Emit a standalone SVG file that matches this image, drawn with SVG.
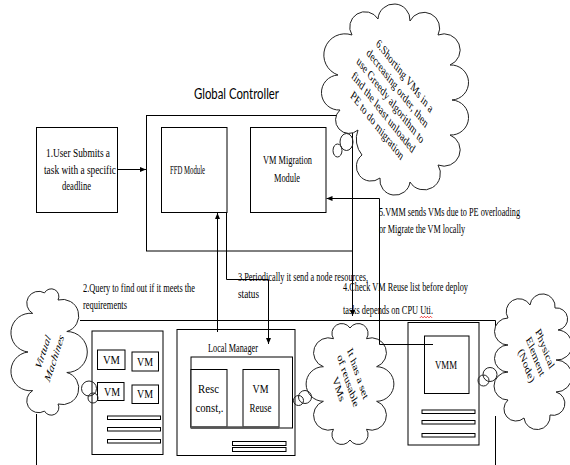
<svg xmlns="http://www.w3.org/2000/svg" width="570" height="465" viewBox="0 0 570 465">
<defs>
<marker id="ah" viewBox="0 0 6 6" markerWidth="6" markerHeight="6" refX="6" refY="3" orient="auto" markerUnits="userSpaceOnUse"><path d="M0,0.5 L6,3 L0,5.5 z" fill="#000"/></marker>
</defs>
<style>
.box{fill:#fff;stroke:#000;stroke-width:1}
.ln{fill:none;stroke:#000;stroke-width:1}
.cloud{fill:#fff;stroke:#222;stroke-width:1}
.bub{fill:none;stroke:#222;stroke-width:1}
.bar{fill:#fff;stroke:#000;stroke-width:1}
.conn{fill:none;stroke:#000;stroke-width:1}
.t{font-family:"Liberation Serif","Times New Roman",serif;font-size:13px;fill:#000}
.s{font-family:Lato,"Open Sans","Liberation Sans",sans-serif;font-size:15px;fill:#000}
</style>
<rect width="570" height="465" fill="#fff"/>

<g id="node-container">
<path class="ln" d="M80,320.5 H495.5 V327 M495.5,416 V470 M36.5,414 V470"/>
</g>

<g id="global-controller">
<rect class="box" x="146.5" y="115.5" width="206" height="135.5"/>
<text class="s" x="194" y="99" textLength="85" lengthAdjust="spacingAndGlyphs">Global Controller</text>
</g>

<g id="user-task">
<rect class="box" x="36.5" y="127.5" width="81" height="85"/>
<text class="t" x="46" y="157" textLength="64" lengthAdjust="spacingAndGlyphs">1.User Submits a</text>
<text class="t" x="44" y="174" textLength="72" lengthAdjust="spacingAndGlyphs">task with a specific</text>
<text class="t" x="62" y="190" textLength="29" lengthAdjust="spacingAndGlyphs">deadline</text>
</g>

<g id="ffd-module">
<rect class="box" x="161.5" y="127.5" width="65.5" height="85"/>
<text class="t" x="170" y="174" textLength="35" lengthAdjust="spacingAndGlyphs">FFD Module</text>
</g>

<g id="vm-migration">
<rect class="box" x="250.5" y="127.5" width="75.5" height="85"/>
<text class="t" x="263" y="164" textLength="49" lengthAdjust="spacingAndGlyphs">VM Migration</text>
<text class="t" x="274" y="182" textLength="26" lengthAdjust="spacingAndGlyphs">Module</text>
</g>

<g id="vm-group">
<rect class="box" x="92" y="331" width="71" height="123.5"/>
<rect class="box" x="97.5" y="350" width="27.5" height="19.5"/>
<rect class="box" x="132" y="352" width="26.5" height="19"/>
<rect class="box" x="97.5" y="382.5" width="26.5" height="18"/>
<rect class="box" x="132" y="385" width="26.5" height="18.5"/>
<text class="t" x="103" y="364" textLength="17" lengthAdjust="spacingAndGlyphs">VM</text>
<text class="t" x="137" y="366" textLength="16" lengthAdjust="spacingAndGlyphs">VM</text>
<text class="t" x="104" y="396" textLength="16" lengthAdjust="spacingAndGlyphs">VM</text>
<text class="t" x="137" y="398" textLength="16" lengthAdjust="spacingAndGlyphs">VM</text>
<rect class="bar" x="107.5" y="416" width="53" height="3.5"/>
<rect class="bar" x="107.5" y="427.5" width="53" height="3.5"/>
<rect class="bar" x="107.5" y="439.5" width="53" height="3.5"/>
</g>

<g id="local-manager">
<rect class="box" x="177" y="329.5" width="118" height="126"/>
<text class="t" x="208" y="352" textLength="50" lengthAdjust="spacingAndGlyphs">Local Manager</text>
<rect class="box" x="191" y="357" width="101.5" height="71"/>
<rect class="box" x="191" y="369.5" width="36" height="57.5"/>
<rect class="box" x="243" y="369.5" width="36" height="57.5"/>
<line x1="191" y1="427.5" x2="279" y2="427.5" stroke="#555" stroke-width="2.5"/>
<text class="t" x="198" y="393" textLength="21" lengthAdjust="spacingAndGlyphs">Resc</text>
<text class="t" x="195.5" y="412" textLength="28" lengthAdjust="spacingAndGlyphs">const,.</text>
<text class="t" x="252.5" y="393" textLength="16" lengthAdjust="spacingAndGlyphs">VM</text>
<text class="t" x="249.5" y="412" textLength="22" lengthAdjust="spacingAndGlyphs">Reuse</text>
<rect class="bar" x="232.5" y="441.5" width="53.5" height="4"/>
<rect class="bar" x="232.5" y="447.5" width="53.5" height="4"/>
</g>

<g id="vmm-node">
<rect class="box" x="408" y="322.5" width="71" height="122.5"/>
<rect class="box" x="424.5" y="336" width="44.5" height="57.5"/>
<text class="t" x="435" y="369" textLength="22" lengthAdjust="spacingAndGlyphs">VMM</text>
<rect class="bar" x="422" y="410" width="53" height="3.5"/>
<rect class="bar" x="422" y="420.5" width="53" height="3.5"/>
<rect class="bar" x="422" y="433.5" width="53" height="3.5"/>
</g>

<g id="cloud-migration">
<path class="cloud" d="M352,35 A1,1 0 0 1 378,19 A1,1 0 0 1 410,21 A1,1 0 0 1 438,35 A1,1 0 0 1 450,65 A1,1 0 0 1 452,100 A1,1 0 0 1 450,135 A1,1 0 0 1 438,165 A1,1 0 0 1 410,182 A1,1 0 0 1 380,178 A1,1 0 0 1 362,155 A25,25 0 0 1 358,130 A1,1 0 0 1 340,110 A1,1 0 0 1 338,75 A1,1 0 0 1 352,35 Z"/>
<ellipse class="bub" cx="346.5" cy="142" rx="6.5" ry="8.5"/>
<ellipse class="bub" cx="337.5" cy="150.5" rx="4.5" ry="6.5"/>
<text class="t" text-anchor="middle" transform="translate(391.5,101) scale(0.68,1) rotate(40.5)">
<tspan x="0" y="-27.5">6.Shorting VMs in a</tspan>
<tspan x="0" y="-11.5">decreasing order, then</tspan>
<tspan x="0" y="4.5">use Greedy algorithm to</tspan>
<tspan x="0" y="20.5">find the least unloaded</tspan>
<tspan x="0" y="36.5">PE to do migration</tspan>
</text>
</g>

<g id="cloud-virtual-machines">
<path class="cloud" d="M44.5,292.9 A1,1 0 0 1 58,300 A1,1 0 0 1 66.8,331.5 A1,1 0 0 1 66.8,372.5 A1,1 0 0 1 58,404 A1,1 0 0 1 44.5,411.1 A1,1 0 0 1 32.7,390.6 A1,1 0 0 1 28,352 A1,1 0 0 1 32.7,313.4 A1,1 0 0 1 44.5,292.9 Z"/>
<circle class="bub" cx="89" cy="388.5" r="7.5"/>
<circle class="bub" cx="93" cy="398" r="5"/>
<text class="t" font-size="14.5" font-style="italic" text-anchor="middle" transform="translate(48.5,354) scale(0.68,1) rotate(-64.6)">
<tspan x="0" y="-3.75">Virtual</tspan>
<tspan x="0" y="13.75">Machines</tspan>
</text>
</g>

<g id="cloud-reusable">
<path class="cloud" d="M350,328 A1,1 0 0 1 366.5,338.7 A1,1 0 0 1 376.6,366.7 A1,1 0 0 1 376.6,401.3 A1,1 0 0 1 366.5,429.3 A1,1 0 0 1 350,440 A1,1 0 0 1 333.5,429.3 A1,1 0 0 1 323.4,401.3 A1,1 0 0 1 323.4,366.7 A1,1 0 0 1 333.5,338.7 A1,1 0 0 1 350,328 Z"/>
<circle class="bub" cx="298.5" cy="400.5" r="5"/>
<circle class="bub" cx="305" cy="397" r="6.5"/>
<text class="t" font-size="14" text-anchor="middle" transform="translate(349,381.7) scale(0.68,1) rotate(64)">
<tspan x="0" y="-11">It has a set</tspan>
<tspan x="0" y="5">of reusable</tspan>
<tspan x="0" y="21">VMs</tspan>
</text>
</g>

<g id="cloud-physical">
<path class="cloud" d="M508,318 A1,1 0 0 1 530,305 A1,1 0 0 1 555,308 A1,1 0 0 1 558,330 A1,1 0 0 1 556,360 A1,1 0 0 1 556,392 A1,1 0 0 1 550,415 A1,1 0 0 1 524,418 A1,1 0 0 1 508,400 A1,1 0 0 1 508,372 A1,1 0 0 1 508,345 A1,1 0 0 1 508,318 Z"/>
<circle class="bub" cx="490" cy="374.5" r="7"/>
<circle class="bub" cx="483.5" cy="380.5" r="5.5"/>
<text class="t" font-size="13.5" text-anchor="middle" transform="translate(536.5,357.5) scale(0.68,1) rotate(61)">
<tspan x="0" y="-11">Physical</tspan>
<tspan x="0" y="5">Element</tspan>
<tspan x="0" y="21">(Node)</tspan>
</text>
</g>

<g id="connectors">
<line class="conn" x1="117.5" y1="169.5" x2="146" y2="169.5" marker-end="url(#ah)"/>
<line class="conn" x1="217.5" y1="332" x2="217.5" y2="213" marker-end="url(#ah)"/>
<polyline class="conn" points="226.5,212.5 226.5,279.5 268.5,279.5 268.5,344" marker-end="url(#ah)"/>
<polyline class="conn" points="433,344.5 379.5,344.5 379.5,198.5 326.5,198.5" marker-end="url(#ah)"/>
<line class="conn" x1="352.5" y1="251" x2="352.5" y2="316" marker-end="url(#ah)"/>
</g>

<g id="labels">
<text class="t" x="83" y="292" textLength="112" lengthAdjust="spacingAndGlyphs">2.Query to find out if it meets the</text>
<text class="t" x="83" y="309" textLength="44" lengthAdjust="spacingAndGlyphs">requirements</text>
<text class="t" x="238" y="281" textLength="130" lengthAdjust="spacingAndGlyphs">3.Periodically it send a node resources,</text>
<text class="t" x="238" y="298" textLength="21" lengthAdjust="spacingAndGlyphs">status</text>
<text class="t" x="343" y="291" textLength="125" lengthAdjust="spacingAndGlyphs">4.Check VM Reuse list before deploy</text>
<text class="t" x="343" y="314" textLength="90" lengthAdjust="spacingAndGlyphs">tasks depends on CPU Uti.</text>
<path d="M420,317.8 l1.5,-1.5 l1.5,1.5 l1.5,-1.5 l1.5,1.5 l1.5,-1.5 l1.5,1.5 l1.5,-1.5 l1.5,1.5" fill="none" stroke="#e00" stroke-width="0.8"/>
<text class="t" x="379" y="216" textLength="141" lengthAdjust="spacingAndGlyphs">5.VMM sends VMs due to PE overloading</text>
<text class="t" x="379" y="233" textLength="86" lengthAdjust="spacingAndGlyphs">or Migrate the VM locally</text>
</g>
</svg>
